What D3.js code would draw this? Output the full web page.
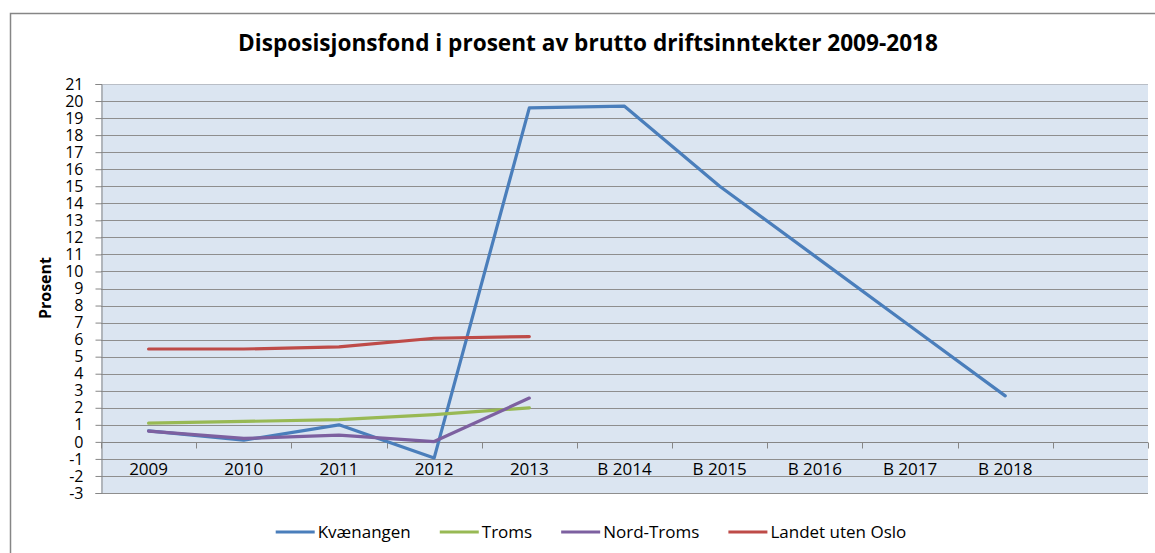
<!DOCTYPE html>
<html>
<head>
<meta charset="utf-8">
<script src="https://cdn.jsdelivr.net/npm/d3@7"></script>
<style>
  body { margin: 0; background: #fff; }
  svg { display: block; font-family: "Open Sans", sans-serif; }
</style>
</head>
<body>
<div id="chart-container"></div>
<script>
// kategorier (siste er tom, slik som i Excel-figuren)
const categories = ["2009", "2010", "2011", "2012", "2013", "B 2014", "B 2015", "B 2016", "B 2017", "B 2018", ""];

// verdier lest av figuren
const kvaenangen = [0.65, 0.1, 1.0, -0.95, 19.6, 19.7, 15.0, 10.9, 6.8, 2.7, null];
const troms = [1.1, 1.2, 1.3, 1.6, 2.0, null, null, null, null, null, null];
const nordTroms = [0.63, 0.2, 0.4, 0.02, 2.57, null, null, null, null, null, null];
const landetUtenOslo = [5.45, 5.45, 5.57, 6.08, 6.18, null, null, null, null, null, null];

const seriesNames = ["Kvænangen", "Troms", "Nord-Troms", "Landet uten Oslo"];
const seriesColors = ["#4a7ebb", "#98b954", "#7d60a0", "#be4b48"];
const yTicks = d3.range(-3, 22);

const title = "Disposisjonsfond i prosent av brutto driftsinntekter 2009-2018";

const width = 1155, height = 553;
const plot = { left: 101, right: 1148, top: 84, bottom: 493 };

const svg = d3.select("#chart-container")
  .append("svg")
  .attr("width", width)
  .attr("height", height);

// ramme rundt hele diagrammet
svg.append("rect")
  .attr("x", 10.5).attr("y", 13.5)
  .attr("width", 1160).attr("height", 560)
  .attr("fill", "#fff")
  .attr("stroke", "#868686")
  .attr("stroke-width", 1.5);

const x = d3.scaleBand().domain(categories).range([plot.left, plot.right]).padding(0);
const y = d3.scaleLinear().domain([-3, 21]).range([plot.bottom, plot.top]);

// plott-bakgrunn
svg.append("rect")
  .attr("x", plot.left).attr("y", plot.top)
  .attr("width", plot.right - plot.left)
  .attr("height", plot.bottom - plot.top)
  .attr("fill", "#dbe5f1");

// rutenett
svg.append("g")
  .selectAll("line")
  .data(yTicks)
  .enter()
  .append("line")
  .attr("x1", plot.left).attr("x2", plot.right)
  .attr("y1", (d) => Math.round(y(d)) + 0.5)
  .attr("y2", (d) => Math.round(y(d)) + 0.5)
  .attr("stroke", (d) => (d === 21 ? "#b9bec6" : "#8e8e8e"))
  .attr("stroke-width", 1);

// y-akse
const yAxis = svg.append("g")
  .attr("transform", `translate(${plot.left + 0.5},0)`)
  .call(d3.axisLeft(y).tickValues(yTicks).tickSize(6).tickPadding(12).tickFormat(d3.format("d")));
yAxis.select(".domain").attr("stroke", "#868686");
yAxis.selectAll(".tick line").attr("stroke", "#868686");
yAxis.selectAll("text")
  .attr("font-size", "16px")
  .attr("font-family", "Open Sans")
  .attr("fill", "#000")
  .text((d) => (d < 0 ? "-" + Math.abs(d) : d));

// kategoriakse ved 0
const y0 = Math.round(y(0)) + 0.5;
svg.append("line")
  .attr("x1", plot.left).attr("x2", plot.right)
  .attr("y1", y0).attr("y2", y0)
  .attr("stroke", "#868686");

const bounds = categories.map((c) => x(c)).concat([plot.right]);
svg.append("g")
  .selectAll("line")
  .data(bounds)
  .enter()
  .append("line")
  .attr("x1", (d) => Math.round(d) + 0.5)
  .attr("x2", (d) => Math.round(d) + 0.5)
  .attr("y1", y0).attr("y2", y0 + 6)
  .attr("stroke", "#868686");

const xAxis = svg.append("g")
  .attr("transform", `translate(0,${y0})`)
  .call(d3.axisBottom(x).tickSize(0).tickPadding(20));
xAxis.select(".domain").remove();
xAxis.selectAll("text")
  .attr("font-size", "17px")
  .attr("font-family", "Open Sans")
  .attr("fill", "#000");

// linjer
const allSeries = [kvaenangen, troms, nordTroms, landetUtenOslo];
const line = d3.line()
  .defined((d) => d != null)
  .x((d, i) => x(categories[i]) + x.bandwidth() / 2)
  .y((d) => y(d));

svg.append("g")
  .selectAll("path")
  .data(allSeries)
  .enter()
  .append("path")
  .attr("d", line)
  .attr("fill", "none")
  .attr("stroke", (d, i) => seriesColors[i])
  .attr("stroke-width", 3.2)
  .attr("stroke-linejoin", "round")
  .attr("stroke-linecap", "round");

// tittel
const titleText = svg.append("text")
  .attr("x", 588).attr("y", 51)
  .attr("text-anchor", "middle")
  .attr("font-weight", "bold")
  .attr("font-size", "21px")
  .attr("fill", "#000")
  .text(title);
// tilpass bredden til originalen (ca. 700 px)
const tw = titleText.node().getComputedTextLength();
titleText.attr("font-size", (21 * 700 / tw).toFixed(2) + "px");

// akse-tittel
svg.append("text")
  .attr("transform", "translate(51,288) rotate(-90)")
  .attr("text-anchor", "middle")
  .attr("font-weight", "bold")
  .attr("font-size", "16px")
  .attr("fill", "#000")
  .text("Prosent");

// tegnforklaring
const legend = svg.append("g");
let lx = 0;
seriesNames.forEach((name, i) => {
  const g = legend.append("g").attr("transform", `translate(${lx},0)`);
  g.append("line")
    .attr("x1", 0).attr("x2", 39)
    .attr("y1", 0).attr("y2", 0)
    .attr("stroke", seriesColors[i])
    .attr("stroke-width", 3.2);
  const t = g.append("text")
    .attr("x", 42).attr("y", 6)
    .attr("font-size", "17px")
    .attr("fill", "#000")
    .text(name);
  lx += 42 + t.node().getComputedTextLength() + 29;
});
const legendWidth = lx - 29;
legend.attr("transform", `translate(${591 - legendWidth / 2},532)`);
</script>
</body>
</html>
